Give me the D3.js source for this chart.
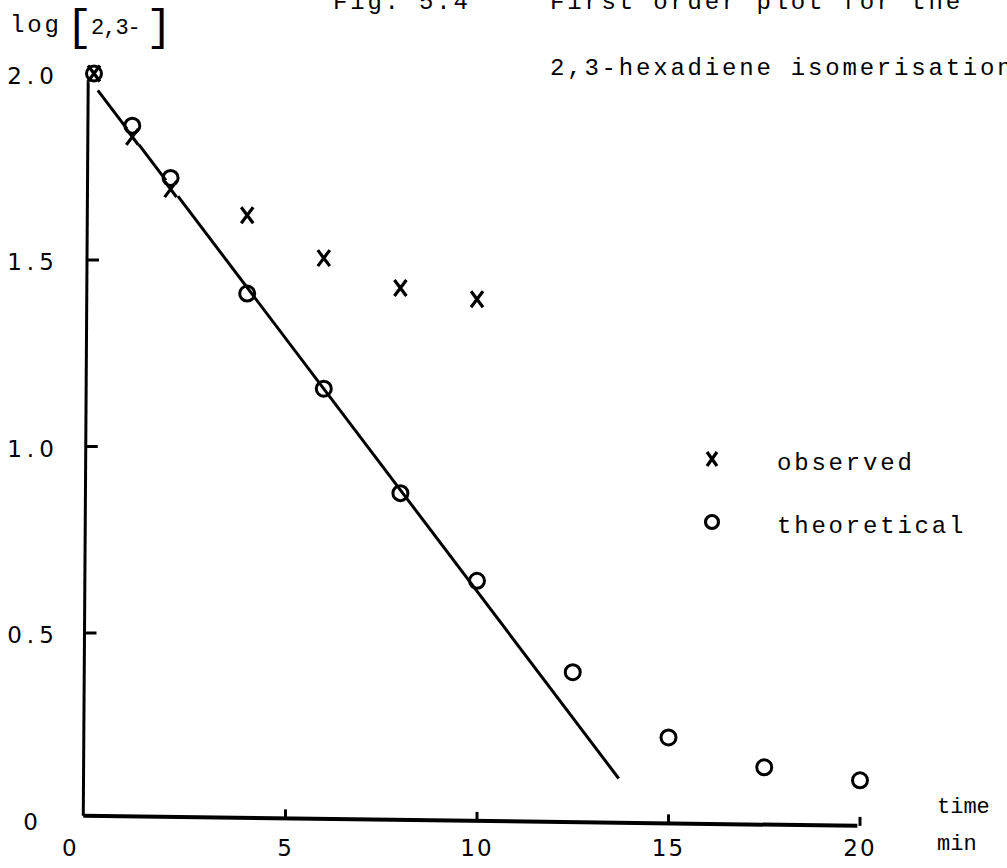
<!DOCTYPE html>
<html><head><meta charset="utf-8">
<script src="https://cdn.jsdelivr.net/npm/d3@7"></script>
<style>body{margin:0;background:#fff}svg{display:block}</style>
</head><body><svg id="c" width="1007" height="868"></svg>
<script>
// ---- data ----
const timesTheo = [0, 1, 2, 4, 6, 8, 10, 12.5, 15, 17.5, 20];
const logTheo   = [2.0, 1.86, 1.72, 1.41, 1.155, 0.875, 0.64, 0.395, 0.22, 0.14, 0.105];
const timesObs  = [0, 1, 2, 4, 6, 8, 10];
const logObs    = [2.0, 1.83, 1.69, 1.62, 1.505, 1.425, 1.395];
const fitTimes  = [0.1, 13.7];
const fitLogs   = [1.955, 0.11];
const xTicks = [5, 10, 15, 20];
const xTickValues = [0, 5, 10, 15, 20];
const xTickLabels = ["0", "5", "10", "15", "20"];
const yTicks = [0.5, 1.0, 1.5];
const yTickValues = [0, 0.5, 1.0, 1.5, 2.0];
const yTickLabels = ["0", "0.5", "1.0", "1.5", "2.0"];
const legendLabels = ["observed", "theoretical"];
const titleLines = ["First order plot for the", "2,3-hexadiene isomerisation"];
const figLabel = "Fig. 5.4";

const svg = d3.select("#c");
const x = d3.scaleLinear().domain([0, 20]).range([94, 860]);
const y = d3.scaleLinear().domain([0, 2]).range([819.5, 73.5]);

const mono = "'Liberation Mono', 'Courier New', monospace";
const sans = "'DejaVu Sans', sans-serif";

// axis geometry (hand drawn, slightly skewed)
const yAxisTop = [x(-0.15), y(2.0)];
const origin = [x(-0.28), y(0.01)];
const xAxisEnd = [x(19.93), y(-0.017)];
const xAxisYAt = px => origin[1] + (px - origin[0]) / (xAxisEnd[0] - origin[0]) * (xAxisEnd[1] - origin[1]);
const yAxisXAt = py => origin[0] + (py - origin[1]) / (yAxisTop[1] - origin[1]) * (yAxisTop[0] - origin[0]);

svg.append("path").attr("d", d3.line()([yAxisTop, origin]))
  .attr("stroke", "#000").attr("stroke-width", 3).attr("fill", "none");
svg.append("path").attr("d", d3.line()([origin, xAxisEnd]))
  .attr("stroke", "#000").attr("stroke-width", 4).attr("fill", "none");

// x ticks via d3 axis (pointing up)
const gx = svg.append("g").call(d3.axisTop(x).tickValues(xTicks).tickSize(9).tickFormat(""));
gx.select(".domain").remove();
gx.selectAll(".tick").attr("transform", d => `translate(${x(d)},${xAxisYAt(x(d))})`);
gx.selectAll(".tick line").attr("stroke", "#000").attr("stroke-width", 3);

// y ticks via d3 axis (pointing right)
const gy = svg.append("g").call(d3.axisRight(y).tickValues(yTicks).tickSize(12).tickFormat(""));
gy.select(".domain").remove();
gy.selectAll(".tick").attr("transform", d => `translate(${yAxisXAt(y(d))},${y(d)})`);
gy.selectAll(".tick line").attr("stroke", "#000").attr("stroke-width", 3);

// tick labels
svg.append("g").selectAll("text").data(yTickValues).join("text")
  .attr("x", 33).attr("y", d => y(d) + 10)
  .attr("text-anchor", "middle").attr("font-family", sans).attr("font-size", 23)
  .attr("letter-spacing", 5)
  .text((d, i) => yTickLabels[i]);

svg.append("g").selectAll("text").data(xTickValues).join("text")
  .attr("x", d => d === 0 ? origin[0] - 13 : x(d))
  .attr("y", 856)
  .attr("text-anchor", "middle").attr("font-family", sans).attr("font-size", 23)
  .attr("letter-spacing", 2)
  .text((d, i) => xTickLabels[i]);

// fit line
svg.append("path")
  .attr("d", d3.line().x(d => x(d[0])).y(d => y(d[1]))(fitTimes.map((t, i) => [t, fitLogs[i]])))
  .attr("stroke", "#000").attr("stroke-width", 3).attr("fill", "none");

const obs = timesObs.map((t, i) => ({t, v: logObs[i]}));
const theo = timesTheo.map((t, i) => ({t, v: logTheo[i]}));
const xPath = "M-6,-8L6,8M6,-8L-6,8";

// halos for observed marks (breaks line)
svg.append("g").selectAll("path").data(obs).join("path")
  .attr("d", xPath).attr("transform", d => `translate(${x(d.t)},${y(d.v)})`)
  .attr("stroke", "#fff").attr("stroke-width", 10).attr("fill", "none");

// theoretical circles
svg.append("g").selectAll("circle").data(theo).join("circle")
  .attr("cx", d => x(d.t)).attr("cy", d => y(d.v)).attr("r", 7.5)
  .attr("fill", "none").attr("stroke", "#000").attr("stroke-width", 3);

// observed crosses
svg.append("g").selectAll("path").data(obs).join("path")
  .attr("d", xPath).attr("transform", d => `translate(${x(d.t)},${y(d.v)})`)
  .attr("stroke", "#000").attr("stroke-width", 3.2).attr("fill", "none");

// legend
const lg = svg.append("g");
legendLabels.forEach((lab, i) => {
  const cy = 459 + i * 63;
  if (i === 0) {
    lg.append("path").attr("d", "M-5,-7L5,7M5,-7L-5,7").attr("transform", `translate(712,${cy})`)
      .attr("stroke", "#000").attr("stroke-width", 3.2).attr("fill", "none");
  } else {
    lg.append("ellipse").attr("cx", 712).attr("cy", cy).attr("rx", 6.5).attr("ry", 6.5)
      .attr("fill", "none").attr("stroke", "#000").attr("stroke-width", 3.2);
  }
  lg.append("text").attr("x", 777).attr("y", cy + 11)
    .attr("font-family", mono).attr("font-size", 24).attr("letter-spacing", 2.8).text(lab);
});

// y axis title: log [2,3-]
const ylab = svg.append("g").attr("font-family", mono);
ylab.append("text").attr("x", 10).attr("y", 32).attr("font-size", 24).attr("letter-spacing", 2.8).text("log");
ylab.append("text").attr("x", 66).attr("y", 40).attr("font-size", 44).text("[");
ylab.append("text").attr("x", 91).attr("y", 34).attr("font-size", 22).attr("letter-spacing", -1).text("2,3-");
ylab.append("text").attr("x", 146).attr("y", 40).attr("font-size", 44).text("]");

svg.append("text").attr("x", 937).attr("y", 813).attr("font-family", mono).attr("font-size", 22)
  .text("time");
svg.append("text").attr("x", 937).attr("y", 850).attr("font-family", mono).attr("font-size", 22)
  .text("min");

// title
svg.append("text").attr("x", 333).attr("y", 9).attr("font-family", mono).attr("font-size", 24)
  .attr("letter-spacing", 2.8).text(figLabel);
svg.append("g").selectAll("text").data(titleLines).join("text")
  .attr("x", 550).attr("y", (d, i) => 9 + i * 66)
  .attr("font-family", mono).attr("font-size", 24).attr("letter-spacing", 2.8).text(d => d);
</script>
</body></html>
